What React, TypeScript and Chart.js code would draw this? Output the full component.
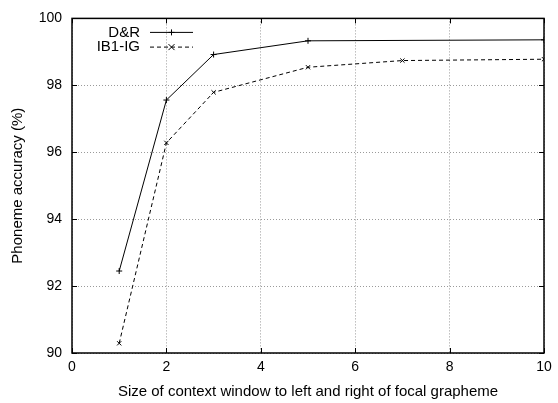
import React, { useEffect, useRef } from 'react';
import { Chart, registerables } from 'chart.js';

Chart.register(...registerables);

const seriesLabels = ['D&R', 'IB1-IG'];
const drX = [1, 2, 3, 5, 10];
const drY = [92.45, 97.56, 98.92, 99.33, 99.36];
const ibX = [1, 2, 3, 5, 7, 10];
const ibY = [90.29, 96.28, 97.79, 98.54, 98.74, 98.78];
const xTicks = [0, 2, 4, 6, 8, 10];
const yTicks = [90, 92, 94, 96, 98, 100];
const xTitle = 'Size of context window to left and right of focal grapheme';
const yTitle = 'Phoneme accuracy (%)';

const FONT = "'Liberation Sans', Arial, Helvetica, sans-serif";

function drawMarker(ctx: CanvasRenderingContext2D, style: string, x: number, y: number, r: number) {
  ctx.beginPath();
  if (style === 'crossRot') {
    ctx.moveTo(x - r, y - r); ctx.lineTo(x + r, y + r);
    ctx.moveTo(x - r, y + r); ctx.lineTo(x + r, y - r);
  } else {
    ctx.moveTo(x - r, y); ctx.lineTo(x + r, y);
    ctx.moveTo(x, y - r); ctx.lineTo(x, y + r);
  }
  ctx.stroke();
}

const framePlugin = {
  id: 'gnuframe',
  afterDatasetsDraw(chart: any) {
    const { ctx, chartArea: a, scales } = chart;
    const x = scales.x, y = scales.y;
    ctx.save();
    ctx.strokeStyle = '#000';
    ctx.lineWidth = 1;
    ctx.setLineDash([]);
    ctx.beginPath();
    const tl = 5;
    for (const v of xTicks) {
      const px = Math.round(x.getPixelForValue(v)) + 0.5;
      ctx.moveTo(px, a.bottom); ctx.lineTo(px, a.bottom - tl);
      ctx.moveTo(px, a.top); ctx.lineTo(px, a.top + tl);
    }
    for (const v of yTicks) {
      const py = Math.round(y.getPixelForValue(v)) + 0.5;
      ctx.moveTo(a.left, py); ctx.lineTo(a.left + tl, py);
      ctx.moveTo(a.right, py); ctx.lineTo(a.right - tl, py);
    }
    ctx.stroke();
    ctx.lineWidth = 1.5;
    ctx.strokeRect(a.left, a.top, a.right - a.left, a.bottom - a.top);

    // legend
    ctx.font = `15px ${FONT}`;
    ctx.fillStyle = '#000';
    ctx.textAlign = 'right';
    ctx.textBaseline = 'middle';
    chart.data.datasets.forEach((ds: any, i: number) => {
      const ly = a.top + 14 + i * 14.7;
      const tx = a.left + 68;
      ctx.fillText(ds.label, tx, ly);
      ctx.lineWidth = 1;
      ctx.setLineDash(ds.borderDash || []);
      ctx.beginPath();
      ctx.moveTo(tx + 10, ly);
      ctx.lineTo(tx + 53, ly);
      ctx.stroke();
      ctx.setLineDash([]);
      drawMarker(ctx, ds.pointStyle, tx + 31.5, ly, 3);
    });
    ctx.restore();
  },
};

export default function App() {
  const ref = useRef<HTMLCanvasElement | null>(null);
  useEffect(() => {
    if (!ref.current) return;
    const tickFont = { family: FONT, size: 14 };
    const titleFont = { family: FONT, size: 15 };
    const chart = new Chart(ref.current, {
      type: 'line',
      data: {
        datasets: [
          {
            label: seriesLabels[0],
            data: drX.map((v, i) => ({ x: v, y: drY[i] })),
            borderColor: '#000',
            borderWidth: 1,
            pointStyle: 'cross',
            pointRadius: 3,
            pointBorderColor: '#000',
            pointBorderWidth: 1,
            fill: false,
            tension: 0,
          },
          {
            label: seriesLabels[1],
            data: ibX.map((v, i) => ({ x: v, y: ibY[i] })),
            borderColor: '#000',
            borderWidth: 1,
            borderDash: [4, 3],
            pointStyle: 'crossRot',
            pointRadius: 3,
            pointBorderColor: '#000',
            pointBorderWidth: 1,
            fill: false,
            tension: 0,
          },
        ],
      },
      options: {
        responsive: false,
        animation: false,
        layout: { padding: { top: 14, right: 14, left: 0, bottom: 0 } },
        plugins: { legend: { display: false }, tooltip: { enabled: false } },
        scales: {
          x: {
            type: 'linear',
            min: 0,
            max: 10,
            afterBuildTicks: (s: any) => { s.ticks = xTicks.map((v) => ({ value: v })); },
            afterFit: (s: any) => { s.height = 50; },
            ticks: { font: tickFont, color: '#000', padding: 6, maxRotation: 0 },
            grid: { color: '#9a9a9a', drawTicks: false, lineWidth: 1 },
            border: { display: false, dash: [1, 2] },
            title: { display: true, text: xTitle, font: titleFont, color: '#000', padding: { top: 4, bottom: 2 } },
          },
          y: {
            type: 'linear',
            min: 90,
            max: 100,
            afterBuildTicks: (s: any) => { s.ticks = yTicks.map((v) => ({ value: v })); },
            afterFit: (s: any) => { s.width = 72; },
            ticks: { font: tickFont, color: '#000', padding: 10 },
            grid: { color: '#9a9a9a', drawTicks: false, lineWidth: 1 },
            border: { display: false, dash: [1, 2] },
            title: { display: true, text: yTitle, font: titleFont, color: '#000', padding: { top: 9, bottom: 0 } },
          },
        },
      },
      plugins: [framePlugin],
    } as any);
    return () => chart.destroy();
  }, []);
  return (
    <div style={{ position: 'fixed', left: 0, top: 0, width: 558, height: 403, background: '#fff' }}>
      <canvas ref={ref} width={558} height={403} style={{ display: 'block' }} />
    </div>
  );
}
